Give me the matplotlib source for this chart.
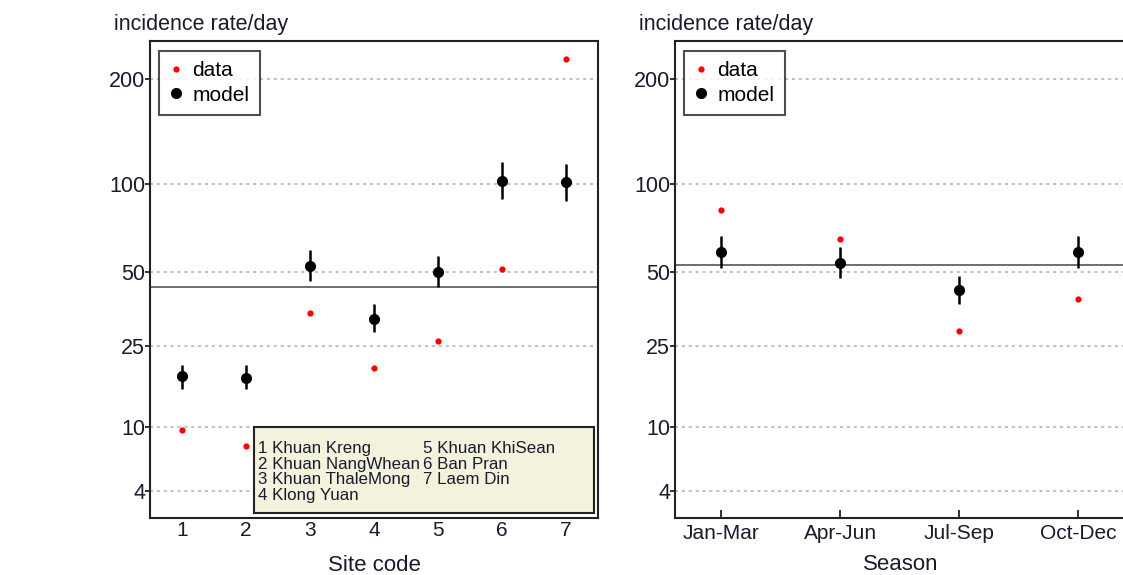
import numpy as np
import matplotlib
matplotlib.use('Agg')
import matplotlib.pyplot as plt
from matplotlib.lines import Line2D

plt.rcParams['font.family'] = ['Liberation Sans', 'DejaVu Sans']

# Site panel values
sites = [1, 2, 3, 4, 5, 6, 7]
site_data = [9.6, 7.7, 34.5, 20.0, 26.5, 51.5, 225]
site_model = [18.2, 17.9, 52.5, 32.8, 50.0, 102.4, 101.1]
site_lo = [15.7, 15.7, 46.2, 28.8, 43.8, 89.6, 88.5]
site_hi = [20.6, 20.6, 60.0, 37.6, 57.2, 116.3, 114.9]
site_mean = 44.1
site_names = ['1 Khuan Kreng', '2 Khuan NangWhean', '3 Khuan ThaleMong', '4 Klong Yuan',
              '5 Khuan KhiSean', '6 Ban Pran', '7 Laem Din']

# Season panel values
seasons = ['Jan-Mar', 'Apr-Jun', 'Jul-Sep', 'Oct-Dec']
season_data = [82.5, 66.0, 29.2, 39.3]
season_model = [59.1, 53.8, 42.7, 59.1]
season_lo = [51.7, 47.6, 37.5, 51.7]
season_hi = [67.5, 61.7, 48.5, 67.5]
season_mean = 53.0

yticks = [4, 10, 25, 50, 100, 200]

fig = plt.figure(figsize=(11.23, 5.75), dpi=100)
ax1 = fig.add_axes([0.1336, 0.0991, 0.3989, 0.8296])
ax2 = fig.add_axes([0.6011, 0.0991, 0.4016, 0.8296])


def fwd(v):
    return np.power(np.clip(v, 1e-9, None), 0.25)


def inv(v):
    return np.power(v, 4)


def style(ax, x, data, model, lo, hi, mean):
    ax.set_yscale('function', functions=(fwd, inv))
    ax.set_ylim(2.5, 250)
    ax.set_yticks(yticks)
    ax.set_yticklabels([str(t) for t in yticks])
    for t in yticks:
        ax.axhline(t, color='#b0b0b0', lw=1.1, ls=(0, (2, 2.5)), zorder=0)
    ax.axhline(mean, color='#555555', lw=1.2, zorder=1)
    model = np.array(model)
    yerr = [model - np.array(lo), np.array(hi) - model]
    ax.errorbar(x, model, yerr=yerr, fmt='o', color='black', ms=7, elinewidth=1.8,
                capsize=0, zorder=3)
    ax.plot(x, data, 'o', color='red', ms=4.5, mec='none', zorder=3)
    for s in ax.spines.values():
        s.set_linewidth(1.5)
        s.set_color('#222222')
    ax.tick_params(axis='y', labelsize=15.5, length=3.5, width=1.3, pad=0,
                   colors='#222222', labelcolor='#1a1a2e')
    ax.text(-0.08, 1.012, 'incidence rate/day', transform=ax.transAxes, fontsize=15.5,
            color='#1a1a2e', ha='left', va='bottom')
    handles = [Line2D([], [], ls='none', marker='o', color='red', ms=4.5, mec='none'),
               Line2D([], [], ls='none', marker='o', color='black', ms=7)]
    leg = ax.legend(handles, ['data', 'model'], loc='upper left', fontsize=15,
                    frameon=True, fancybox=False, edgecolor='#222222',
                    handlelength=0.6, handletextpad=0.5, labelspacing=0.25,
                    borderpad=0.5, borderaxespad=0,
                    bbox_to_anchor=(0.02, 0.979))
    leg.get_frame().set_linewidth(1.5)


style(ax1, sites, site_data, site_model, site_lo, site_hi, site_mean)
ax1.set_xlim(0.5, 7.5)
ax1.set_xticks(sites)
ax1.tick_params(axis='x', labelsize=15, length=0, pad=2, labelcolor='#1a1a2e')
ax1.set_xlabel('Site code', fontsize=16, color='#1a1a2e', labelpad=11)

col1 = '\n'.join(site_names[:4])
col2 = '\n'.join(site_names[4:])
box = plt.Rectangle((0.232, 0.01), 0.76, 0.18, transform=ax1.transAxes,
                    facecolor='#f3f2dc', edgecolor='#222222', lw=1.5, zorder=4)
ax1.add_patch(box)
ax1.text(0.24, 0.162, col1, transform=ax1.transAxes, fontsize=12.2, va='top',
         ha='left', color='#1a1a2e', linespacing=1.07, zorder=5)
ax1.text(0.61, 0.162, col2, transform=ax1.transAxes, fontsize=12.2, va='top',
         ha='left', color='#1a1a2e', linespacing=1.07, zorder=5)

xs = np.arange(1, len(seasons) + 1)
style(ax2, xs, season_data, season_model, season_lo, season_hi, season_mean)
ax2.set_xlim(0.615, 4.4)
ax2.set_xticks(xs)
ax2.set_xticklabels(seasons)
ax2.tick_params(axis='x', direction='in', labelsize=15, length=6, width=1.3,
                pad=4.5, colors='#222222', labelcolor='#1a1a2e')
ax2.set_xlabel('Season', fontsize=16, color='#1a1a2e', labelpad=8)

fig.savefig('out.png', dpi=100)
